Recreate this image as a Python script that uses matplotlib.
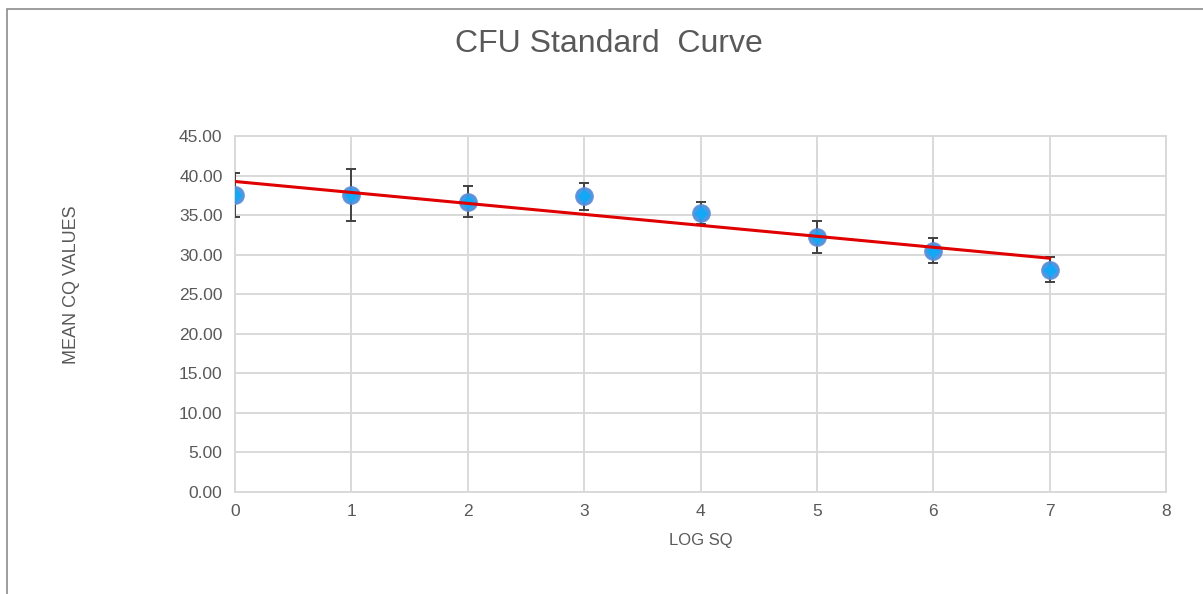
import numpy as np
import matplotlib
matplotlib.use("Agg")
import matplotlib.pyplot as plt
from matplotlib.patches import Rectangle

plt.rcParams['font.family'] = ['Liberation Sans', 'DejaVu Sans']

# datos
log_sq = [0, 1, 2, 3, 4, 5, 6, 7]
mean_cq = [37.5, 37.5, 36.7, 37.4, 35.3, 32.2, 30.5, 28.1]
err_cq = [2.8, 3.3, 2.0, 1.7, 1.4, 2.0, 1.6, 1.55]
y_ticks = [0, 5, 10, 15, 20, 25, 30, 35, 40, 45]
x_ticks = [0, 1, 2, 3, 4, 5, 6, 7, 8]

gris = '#595959'

fig = plt.figure(figsize=(12.03, 5.94), dpi=100)
ax = fig.add_axes([235/1203, 102/594, 931/1203, 356/594])

# marco exterior (solo se ve arriba e izquierda)
fig.patches.append(Rectangle((7/1203, -0.1), 1.1, (594-9)/594 + 0.1,
                             transform=fig.transFigure, fill=False,
                             edgecolor='#8c8c8c', linewidth=1.2))

ax.errorbar(log_sq, mean_cq, yerr=err_cq, fmt='none', ecolor='#404040',
            elinewidth=1.4, capsize=3.5, capthick=1.4, zorder=3)
ax.plot(log_sq, mean_cq, 'o', ms=12, mfc='#3b8ee0', mec='#5b8fd8',
        mew=1.5, alpha=0.9, zorder=4)
ax.plot(log_sq, mean_cq, 'D', ms=6.5, mfc='#12a8f5', mec='#12a8f5', zorder=5)

# linea de tendencia lineal
m, b = np.polyfit(log_sq, mean_cq, 1)
xs = np.array([log_sq[0], log_sq[-1]])
ax.plot(xs, m*xs + b, color='#e00000', lw=2.2, zorder=6)

ax.set_xlim(0, 8)
ax.set_ylim(0, 45)
ax.set_xticks(x_ticks)
ax.set_yticks(y_ticks)
ax.set_yticklabels(['%.2f' % v for v in y_ticks])
ax.grid(True, color='#d9d9d9', lw=1.4)
ax.set_axisbelow(True)
for s in ax.spines.values():
    s.set_color('#d9d9d9')
    s.set_linewidth(1.4)
ax.tick_params(length=0, labelsize=12.5, colors=gris, pad=9)

ax.set_xlabel('LOG SQ', fontsize=12, color=gris, labelpad=10)
fig.text(72/1203, 1 - 285/594, 'MEAN CQ VALUES', rotation=90, fontsize=13,
         color=gris, ha='center', va='center')
fig.text(609/1203, 1 - 44/594, 'CFU Standard  Curve', fontsize=23,
         color=gris, ha='center', va='center')

fig.savefig('out.png', dpi=100)
